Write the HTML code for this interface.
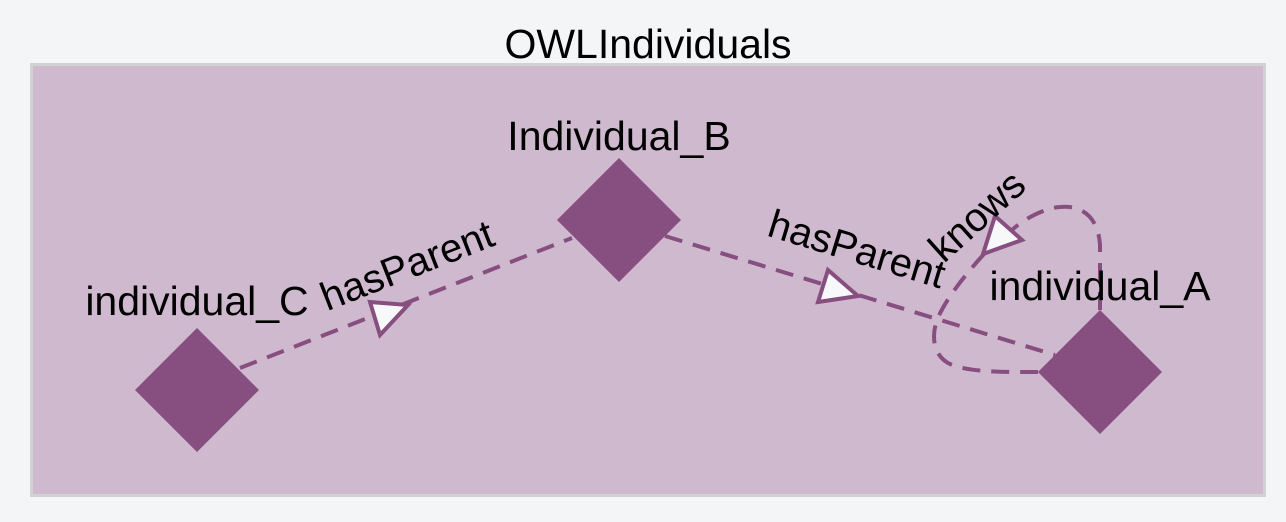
<!DOCTYPE html>
<html><head><meta charset="utf-8"><style>
html,body{margin:0;padding:0;background:#f4f5f7;}
svg{display:block;}
text{font-family:"Liberation Sans",Arial,sans-serif;fill:#000;}
</style></head><body>
<svg width="1286" height="522" viewBox="0 0 1286 522" xmlns="http://www.w3.org/2000/svg">
<rect x="0" y="0" width="1286" height="522" fill="#f4f5f7"/>
<rect x="31.5" y="64.5" width="1233" height="431" fill="#cfb9ce" stroke="#d2d2d2" stroke-width="3"/>
<text x="648" y="58" font-size="41" text-anchor="middle">OWLIndividuals</text>

<g fill="none" stroke="#874e80" stroke-width="4" stroke-dasharray="18,11">
<path d="M240 368 L572 238"/>
<path d="M665 236 L1055 355"/>
<path d="M1100 310 L1100 245 C1098 215 1080 205 1060 207 C1045 208 1025 218 1012 230"/>
<path d="M984 254 C965 275 945 300 937 320 C930 340 935 360 955 366 C975 372 1000 372 1038 372"/>
</g>

<polygon points="370,302 408,305 380,335" fill="#f7f8fa" stroke="#874e80" stroke-width="4"/>
<polygon points="828,270 858,296 818,302" fill="#f7f8fa" stroke="#874e80" stroke-width="4"/>
<polygon points="995,216 1022,240 983,254" fill="#f7f8fa" stroke="#874e80" stroke-width="4"/>

<polygon points="197,328 259,390 197,452 135,390" fill="#874e80"/>
<polygon points="619,158 681,220 619,282 557,220" fill="#874e80"/>
<polygon points="1100,310 1162,372 1100,434 1038,372" fill="#874e80"/>

<text x="197" y="315" font-size="41" text-anchor="middle">individual_C</text>
<text x="619" y="150" font-size="41" text-anchor="middle">Individual_B</text>
<text x="1100" y="300" font-size="41" text-anchor="middle">individual_A</text>

<text x="0" y="0" font-size="40" text-anchor="middle" transform="translate(412,278) rotate(-21.4)">hasParent</text>
<text x="0" y="0" font-size="40" text-anchor="middle" transform="translate(853,262) rotate(17)">hasParent</text>
<text x="0" y="0" font-size="40" text-anchor="middle" transform="translate(986,226) rotate(-42)">knows</text>
</svg>
</body></html>
